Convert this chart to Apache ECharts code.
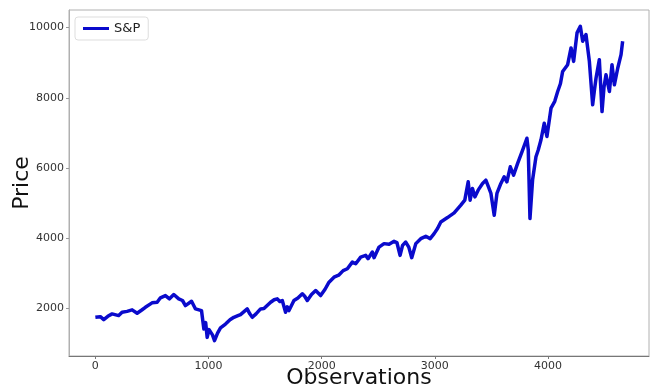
<!DOCTYPE html>
<html>
<head>
<meta charset="utf-8">
<script src="https://cdn.jsdelivr.net/npm/echarts@6/dist/echarts.min.js"></script>
<style>
  html, body { margin: 0; padding: 0; background: #fff; }
  #chart { width: 656px; height: 389px; }
</style>
</head>
<body>
<div id="chart"></div>
<script>
const observations = [0, 44, 74, 110, 148, 206, 236, 280, 325, 369, 410, 442, 501, 546, 575, 619, 655, 693, 737, 770,
  796, 850, 885, 938, 959, 975, 988, 1005, 1018, 1035, 1053, 1080, 1106, 1150, 1190, 1224, 1260, 1283, 1342, 1365,
  1387, 1420, 1460, 1490, 1549, 1580, 1608, 1630, 1652, 1681, 1696, 1711, 1755, 1790, 1829, 1850, 1873, 1910, 1947, 1991,
  2030, 2065, 2109, 2150, 2190, 2227, 2271, 2301, 2345, 2389, 2410, 2448, 2463, 2507, 2551, 2596, 2640, 2665, 2693, 2715,
  2743, 2770, 2796, 2832, 2876, 2920, 2959, 2994, 3024, 3053, 3112, 3171, 3230, 3265, 3295, 3312, 3333, 3354, 3383, 3422,
  3451, 3470, 3496, 3525, 3549, 3584, 3613, 3637, 3667, 3696, 3732, 3776, 3814, 3826, 3841, 3864, 3894, 3914, 3938, 3967,
  3991, 4027, 4060, 4086, 4110, 4130, 4174, 4204, 4227, 4257, 4286, 4307, 4336, 4366, 4395, 4410, 4425, 4454, 4478, 4495,
  4513, 4543, 4566, 4587, 4617, 4646, 4660];
const prices = [1752, 1770, 1686, 1780, 1849, 1800, 1895, 1920, 1963, 1866, 1960, 2037, 2163, 2180, 2306, 2371, 2277, 2400, 2277, 2230,
  2086, 2209, 1990, 1943, 1420, 1600, 1180, 1400, 1420, 1250, 1086, 1300, 1450, 1560, 1680, 1752, 1800, 1829, 1990, 1850,
  1752, 1850, 1990, 2000, 2180, 2250, 2277, 2200, 2229, 1895, 2050, 1943, 2229, 2300, 2420, 2350, 2229, 2400, 2514, 2371,
  2550, 2751, 2894, 2950, 3080, 3134, 3323, 3277, 3466, 3514, 3420, 3609, 3449, 3751, 3849, 3829, 3914, 3880, 3514, 3800,
  3894, 3750, 3449, 3849, 3991, 4057, 3991, 4134, 4277, 4466, 4591, 4723, 4943, 5086, 5609, 5086, 5420, 5180, 5371, 5563,
  5657, 5500, 5277, 4657, 5277, 5563, 5751, 5609, 6037, 5800, 6134, 6514, 6849, 6514, 4563, 5657, 6323, 6514, 6800, 7277,
  6900, 7706, 7900, 8180, 8400, 8751, 8943, 9420, 9037, 9849, 10037, 9609, 9800, 9037, 7800, 8200, 8563, 9086, 7609, 8300,
  8657, 8180, 8943, 8371, 8849, 9229, 9609];
const xTicks = [0, 1000, 2000, 3000, 4000];
const yTicks = [2000, 4000, 6000, 8000, 10000];

const chart = echarts.init(document.getElementById('chart'));
const font = 'DejaVu Sans';
chart.setOption({
  animation: false,
  textStyle: { fontFamily: font },
  grid: {
    left: 69, right: 7, top: 10, bottom: 33,
    outerBoundsMode: 'none', containLabel: false,
    show: true, borderColor: '#b0b0b0', borderWidth: 1
  },
  legend: {
    left: 75, top: 17,
    padding: [5, 8],
    itemWidth: 26, itemHeight: 3,
    itemGap: 8,
    icon: 'rect',
    borderColor: '#dddddd', borderWidth: 1, borderRadius: 3,
    textStyle: { fontSize: 13, color: '#222', fontFamily: font },
    data: ['S&P']
  },
  xAxis: {
    type: 'value',
    min: -233, max: 4893,
    name: 'Observations',
    nameLocation: 'middle',
    nameGap: 11,
    nameMoveOverlap: false,
    nameTextStyle: { fontSize: 22, color: '#111', fontFamily: font },
    axisLine: { onZero: false, lineStyle: { color: '#777' } },
    axisTick: { customValues: xTicks, length: 3, lineStyle: { color: '#777' } },
    axisLabel: { customValues: xTicks, fontSize: 11, color: '#333', margin: 5, formatter: v => String(v) },
    splitLine: { show: false }
  },
  yAxis: {
    type: 'value',
    min: 650, max: 10500,
    name: 'Price',
    nameLocation: 'middle',
    nameGap: 36,
    nameMoveOverlap: false,
    nameTextStyle: { fontSize: 22, color: '#111', fontFamily: font },
    axisLine: { show: true, onZero: false, lineStyle: { color: '#b0b0b0' } },
    axisTick: { show: true, customValues: yTicks, length: 3, lineStyle: { color: '#999' } },
    axisLabel: { customValues: yTicks, fontSize: 11, color: '#333', margin: 5, formatter: v => String(v) },
    splitLine: { show: false }
  },
  series: [{
    name: 'S&P',
    type: 'line',
    showSymbol: false,
    data: observations.map((o, i) => [o, prices[i]]),
    itemStyle: { color: '#0a0acc' },
    lineStyle: { color: '#0a0acc', width: 3.5, join: 'round' }
  }]
});
</script>
</body>
</html>
